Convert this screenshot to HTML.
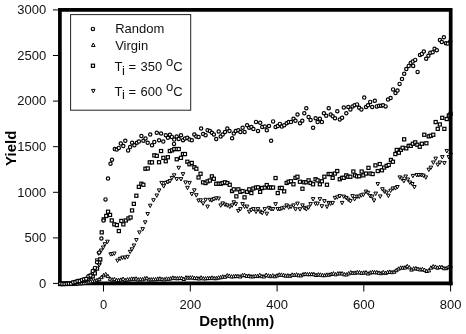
<!DOCTYPE html>
<html><head><meta charset="utf-8"><title>Yield vs Depth</title>
<style>
html,body{margin:0;padding:0;background:#fff;}
svg{display:block;font-family:"Liberation Sans",Arial,Helvetica,sans-serif;}
.m *{fill:#fff;stroke:#000;stroke-width:1.2;}
.m path{stroke-width:1;}
.m path.d{stroke-width:1;}
.t line{stroke:#000;stroke-width:1;}
.lab{font-size:13px;fill:#111;}
.ax{font-size:15px;font-weight:bold;fill:#000;}
</style></head><body>
<svg width="466" height="334" viewBox="0 0 466 334">
<rect x="0" y="0" width="466" height="334" fill="#fff"/>
<path d="M59.9 8.1V283.45H452.55" fill="none" stroke="#000" stroke-width="3.7"/>
<g class="t">
<line x1="53" y1="283.4" x2="58.5" y2="283.4"/>
<line x1="53" y1="237.9" x2="58.5" y2="237.9"/>
<line x1="53" y1="192.3" x2="58.5" y2="192.3"/>
<line x1="53" y1="146.7" x2="58.5" y2="146.7"/>
<line x1="53" y1="101.1" x2="58.5" y2="101.1"/>
<line x1="53" y1="55.5" x2="58.5" y2="55.5"/>
<line x1="53" y1="9.9" x2="58.5" y2="9.9"/>
<line x1="103.5" y1="285" x2="103.5" y2="291.5"/>
<line x1="190.3" y1="285" x2="190.3" y2="291.5"/>
<line x1="277.1" y1="285" x2="277.1" y2="291.5"/>
<line x1="363.8" y1="285" x2="363.8" y2="291.5"/>
<line x1="450.6" y1="285" x2="450.6" y2="291.5"/>
</g>
<g class="lab"><text x="46.2" y="287.8" text-anchor="end">0</text><text x="46.2" y="242.2" text-anchor="end">500</text><text x="46.2" y="196.6" text-anchor="end">1000</text><text x="46.2" y="151.0" text-anchor="end">1500</text><text x="46.2" y="105.4" text-anchor="end">2000</text><text x="46.2" y="59.8" text-anchor="end">2500</text><text x="46.2" y="13.7" text-anchor="end">3000</text><text x="103.5" y="309.1" text-anchor="middle">0</text><text x="190.3" y="309.1" text-anchor="middle">200</text><text x="277.1" y="309.1" text-anchor="middle">400</text><text x="363.8" y="309.1" text-anchor="middle">600</text><text x="450.6" y="309.1" text-anchor="middle">800</text></g>
<g class="m">
<path d="M58.4 285.5L62.0 285.5L60.2 282.1Z"/>
<path d="M60.5 285.5L64.1 285.5L62.3 282.1Z"/>
<path d="M62.7 285.3L66.3 285.3L64.5 281.9Z"/>
<path d="M64.9 285.6L68.5 285.6L66.7 282.2Z"/>
<path d="M67.0 285.4L70.6 285.4L68.8 282.0Z"/>
<path d="M69.2 285.4L72.8 285.4L71.0 282.0Z"/>
<path d="M71.4 285.4L75.0 285.4L73.2 282.0Z"/>
<path d="M73.6 285.4L77.2 285.4L75.4 282.0Z"/>
<path d="M75.7 285.1L79.3 285.1L77.5 281.7Z"/>
<path d="M77.9 284.8L81.5 284.8L79.7 281.4Z"/>
<path d="M80.1 284.8L83.7 284.8L81.9 281.4Z"/>
<path d="M82.2 284.4L85.8 284.4L84.0 281.0Z"/>
<path d="M84.4 284.5L88.0 284.5L86.2 281.1Z"/>
<path d="M86.6 283.7L90.2 283.7L88.4 280.3Z"/>
<path d="M88.7 283.2L92.3 283.2L90.5 279.8Z"/>
<path d="M90.9 282.6L94.5 282.6L92.7 279.2Z"/>
<path d="M93.1 282.2L96.7 282.2L94.9 278.8Z"/>
<path d="M95.2 281.6L98.8 281.6L97.0 278.2Z"/>
<path d="M97.4 280.7L101.0 280.7L99.2 277.3Z"/>
<path d="M99.6 278.7L103.2 278.7L101.4 275.3Z"/>
<path d="M101.8 276.8L105.3 276.8L103.5 273.4Z"/>
<path d="M103.9 275.8L107.5 275.8L105.7 272.4Z"/>
<path d="M106.1 277.6L109.7 277.6L107.9 274.2Z"/>
<path d="M108.3 280.3L111.9 280.3L110.1 276.9Z"/>
<path d="M110.4 281.1L114.0 281.1L112.2 277.7Z"/>
<path d="M112.6 280.6L116.2 280.6L114.4 277.2Z"/>
<path d="M114.8 281.7L118.4 281.7L116.6 278.3Z"/>
<path d="M116.9 281.5L120.5 281.5L118.7 278.1Z"/>
<path d="M119.1 281.2L122.7 281.2L120.9 277.8Z"/>
<path d="M121.3 280.4L124.9 280.4L123.1 277.0Z"/>
<path d="M123.4 281.6L127.0 281.6L125.2 278.2Z"/>
<path d="M125.6 281.0L129.2 281.0L127.4 277.6Z"/>
<path d="M127.8 280.8L131.4 280.8L129.6 277.4Z"/>
<path d="M129.9 280.2L133.5 280.2L131.7 276.8Z"/>
<path d="M132.1 280.3L135.7 280.3L133.9 276.9Z"/>
<path d="M134.3 280.1L137.9 280.1L136.1 276.7Z"/>
<path d="M136.4 281.0L140.1 281.0L138.2 277.6Z"/>
<path d="M138.6 280.8L142.2 280.8L140.4 277.4Z"/>
<path d="M140.8 280.8L144.4 280.8L142.6 277.4Z"/>
<path d="M143.0 279.9L146.6 279.9L144.8 276.5Z"/>
<path d="M145.1 279.7L148.7 279.7L146.9 276.3Z"/>
<path d="M147.3 281.0L150.9 281.0L149.1 277.6Z"/>
<path d="M149.5 280.9L153.1 280.9L151.3 277.5Z"/>
<path d="M151.6 280.8L155.2 280.8L153.4 277.4Z"/>
<path d="M153.8 280.8L157.4 280.8L155.6 277.4Z"/>
<path d="M156.0 280.3L159.6 280.3L157.8 276.9Z"/>
<path d="M158.1 280.1L161.7 280.1L159.9 276.7Z"/>
<path d="M160.3 280.6L163.9 280.6L162.1 277.2Z"/>
<path d="M162.5 280.9L166.1 280.9L164.3 277.5Z"/>
<path d="M164.6 280.2L168.2 280.2L166.4 276.8Z"/>
<path d="M166.8 280.3L170.4 280.3L168.6 276.9Z"/>
<path d="M169.0 279.9L172.6 279.9L170.8 276.5Z"/>
<path d="M171.1 279.2L174.8 279.2L172.9 275.8Z"/>
<path d="M173.3 279.6L176.9 279.6L175.1 276.2Z"/>
<path d="M175.5 279.8L179.1 279.8L177.3 276.4Z"/>
<path d="M177.7 279.6L181.3 279.6L179.5 276.2Z"/>
<path d="M179.8 279.5L183.4 279.5L181.6 276.1Z"/>
<path d="M182.0 280.5L185.6 280.5L183.8 277.1Z"/>
<path d="M184.2 279.0L187.8 279.0L186.0 275.6Z"/>
<path d="M186.3 279.2L189.9 279.2L188.1 275.8Z"/>
<path d="M188.5 279.0L192.1 279.0L190.3 275.6Z"/>
<path d="M190.7 279.0L194.3 279.0L192.5 275.6Z"/>
<path d="M192.8 279.6L196.4 279.6L194.6 276.2Z"/>
<path d="M195.0 279.6L198.6 279.6L196.8 276.2Z"/>
<path d="M197.2 280.0L200.8 280.0L199.0 276.6Z"/>
<path d="M199.3 279.1L202.9 279.1L201.1 275.7Z"/>
<path d="M201.5 279.9L205.1 279.9L203.3 276.5Z"/>
<path d="M203.7 279.9L207.3 279.9L205.5 276.5Z"/>
<path d="M205.8 279.6L209.5 279.6L207.7 276.2Z"/>
<path d="M208.0 279.6L211.6 279.6L209.8 276.2Z"/>
<path d="M210.2 279.2L213.8 279.2L212.0 275.8Z"/>
<path d="M212.4 279.7L216.0 279.7L214.2 276.3Z"/>
<path d="M214.5 279.7L218.1 279.7L216.3 276.3Z"/>
<path d="M216.7 279.1L220.3 279.1L218.5 275.7Z"/>
<path d="M218.9 278.8L222.5 278.8L220.7 275.4Z"/>
<path d="M221.0 278.1L224.6 278.1L222.8 274.7Z"/>
<path d="M223.2 278.3L226.8 278.3L225.0 274.9Z"/>
<path d="M225.4 276.9L229.0 276.9L227.2 273.5Z"/>
<path d="M227.5 277.3L231.1 277.3L229.3 273.9Z"/>
<path d="M229.7 278.0L233.3 278.0L231.5 274.6Z"/>
<path d="M231.9 277.8L235.5 277.8L233.7 274.4Z"/>
<path d="M234.0 277.6L237.6 277.6L235.8 274.2Z"/>
<path d="M236.2 277.6L239.8 277.6L238.0 274.2Z"/>
<path d="M238.4 278.0L242.0 278.0L240.2 274.6Z"/>
<path d="M240.6 276.8L244.2 276.8L242.4 273.4Z"/>
<path d="M242.7 276.5L246.3 276.5L244.5 273.1Z"/>
<path d="M244.9 277.4L248.5 277.4L246.7 274.0Z"/>
<path d="M247.1 277.3L250.7 277.3L248.9 273.9Z"/>
<path d="M249.2 277.9L252.8 277.9L251.0 274.5Z"/>
<path d="M251.4 277.9L255.0 277.9L253.2 274.5Z"/>
<path d="M253.6 277.5L257.2 277.5L255.4 274.1Z"/>
<path d="M255.7 277.6L259.3 277.6L257.5 274.2Z"/>
<path d="M257.9 276.6L261.5 276.6L259.7 273.2Z"/>
<path d="M260.1 277.7L263.7 277.7L261.9 274.3Z"/>
<path d="M262.2 277.9L265.8 277.9L264.0 274.5Z"/>
<path d="M264.4 276.4L268.0 276.4L266.2 273.0Z"/>
<path d="M266.6 277.1L270.2 277.1L268.4 273.7Z"/>
<path d="M268.7 277.7L272.3 277.7L270.5 274.3Z"/>
<path d="M270.9 277.0L274.5 277.0L272.7 273.6Z"/>
<path d="M273.1 277.8L276.7 277.8L274.9 274.4Z"/>
<path d="M275.2 277.0L278.9 277.0L277.1 273.6Z"/>
<path d="M277.4 276.2L281.0 276.2L279.2 272.8Z"/>
<path d="M279.6 276.3L283.2 276.3L281.4 272.9Z"/>
<path d="M281.8 276.6L285.4 276.6L283.6 273.2Z"/>
<path d="M283.9 277.2L287.5 277.2L285.7 273.8Z"/>
<path d="M286.1 277.0L289.7 277.0L287.9 273.6Z"/>
<path d="M288.3 277.3L291.9 277.3L290.1 273.9Z"/>
<path d="M290.4 276.2L294.0 276.2L292.2 272.8Z"/>
<path d="M292.6 276.5L296.2 276.5L294.4 273.1Z"/>
<path d="M294.8 276.1L298.4 276.1L296.6 272.7Z"/>
<path d="M296.9 276.8L300.5 276.8L298.7 273.4Z"/>
<path d="M299.1 276.9L302.7 276.9L300.9 273.5Z"/>
<path d="M301.3 275.9L304.9 275.9L303.1 272.5Z"/>
<path d="M303.4 275.5L307.0 275.5L305.2 272.1Z"/>
<path d="M305.6 275.7L309.2 275.7L307.4 272.3Z"/>
<path d="M307.8 275.7L311.4 275.7L309.6 272.3Z"/>
<path d="M309.9 275.6L313.6 275.6L311.8 272.2Z"/>
<path d="M312.1 275.7L315.7 275.7L313.9 272.3Z"/>
<path d="M314.3 276.5L317.9 276.5L316.1 273.1Z"/>
<path d="M316.5 276.0L320.1 276.0L318.3 272.6Z"/>
<path d="M318.6 276.2L322.2 276.2L320.4 272.8Z"/>
<path d="M320.8 276.7L324.4 276.7L322.6 273.3Z"/>
<path d="M323.0 276.7L326.6 276.7L324.8 273.3Z"/>
<path d="M325.1 276.2L328.7 276.2L326.9 272.8Z"/>
<path d="M327.3 276.2L330.9 276.2L329.1 272.8Z"/>
<path d="M329.5 275.5L333.1 275.5L331.3 272.1Z"/>
<path d="M331.6 275.0L335.2 275.0L333.4 271.6Z"/>
<path d="M333.8 275.8L337.4 275.8L335.6 272.4Z"/>
<path d="M336.0 275.0L339.6 275.0L337.8 271.6Z"/>
<path d="M338.1 274.9L341.7 274.9L339.9 271.5Z"/>
<path d="M340.3 274.9L343.9 274.9L342.1 271.5Z"/>
<path d="M342.5 275.8L346.1 275.8L344.3 272.4Z"/>
<path d="M344.6 276.0L348.2 276.0L346.4 272.6Z"/>
<path d="M346.8 274.9L350.4 274.9L348.6 271.5Z"/>
<path d="M349.0 273.9L352.6 273.9L350.8 270.5Z"/>
<path d="M351.2 274.4L354.8 274.4L353.0 271.0Z"/>
<path d="M353.3 274.3L356.9 274.3L355.1 270.9Z"/>
<path d="M355.5 273.8L359.1 273.8L357.3 270.4Z"/>
<path d="M357.7 273.9L361.3 273.9L359.5 270.5Z"/>
<path d="M359.8 274.4L363.4 274.4L361.6 271.0Z"/>
<path d="M362.0 274.1L365.6 274.1L363.8 270.7Z"/>
<path d="M364.2 273.9L367.8 273.9L366.0 270.5Z"/>
<path d="M366.3 275.0L369.9 275.0L368.1 271.6Z"/>
<path d="M368.5 274.1L372.1 274.1L370.3 270.7Z"/>
<path d="M370.7 273.6L374.3 273.6L372.5 270.2Z"/>
<path d="M372.8 273.8L376.4 273.8L374.6 270.4Z"/>
<path d="M375.0 273.8L378.6 273.8L376.8 270.4Z"/>
<path d="M377.2 274.3L380.8 274.3L379.0 270.9Z"/>
<path d="M379.4 274.7L383.0 274.7L381.2 271.3Z"/>
<path d="M381.5 273.7L385.1 273.7L383.3 270.3Z"/>
<path d="M383.7 274.4L387.3 274.4L385.5 271.0Z"/>
<path d="M385.9 273.6L389.5 273.6L387.7 270.2Z"/>
<path d="M388.0 273.3L391.6 273.3L389.8 269.9Z"/>
<path d="M390.2 273.7L393.8 273.7L392.0 270.3Z"/>
<path d="M392.4 273.2L396.0 273.2L394.2 269.8Z"/>
<path d="M394.5 271.7L398.1 271.7L396.3 268.3Z"/>
<path d="M396.7 270.2L400.3 270.2L398.5 266.8Z"/>
<path d="M398.9 269.2L402.5 269.2L400.7 265.8Z"/>
<path d="M401.0 269.2L404.6 269.2L402.8 265.8Z"/>
<path d="M403.2 269.0L406.8 269.0L405.0 265.6Z"/>
<path d="M405.4 267.7L409.0 267.7L407.2 264.3Z"/>
<path d="M407.5 268.9L411.1 268.9L409.3 265.5Z"/>
<path d="M409.7 271.1L413.3 271.1L411.5 267.7Z"/>
<path d="M411.9 270.0L415.5 270.0L413.7 266.6Z"/>
<path d="M414.1 269.8L417.7 269.8L415.9 266.4Z"/>
<path d="M416.2 270.4L419.8 270.4L418.0 267.0Z"/>
<path d="M418.4 271.0L422.0 271.0L420.2 267.6Z"/>
<path d="M420.6 270.7L424.2 270.7L422.4 267.3Z"/>
<path d="M422.7 271.4L426.3 271.4L424.5 268.0Z"/>
<path d="M424.9 272.5L428.5 272.5L426.7 269.1Z"/>
<path d="M427.1 271.9L430.7 271.9L428.9 268.5Z"/>
<path d="M429.2 269.2L432.8 269.2L431.0 265.8Z"/>
<path d="M431.4 267.9L435.0 267.9L433.2 264.5Z"/>
<path d="M433.6 268.3L437.2 268.3L435.4 264.9Z"/>
<path d="M435.7 269.2L439.3 269.2L437.5 265.8Z"/>
<path d="M437.9 268.5L441.5 268.5L439.7 265.1Z"/>
<path d="M440.1 268.6L443.7 268.6L441.9 265.2Z"/>
<path d="M442.2 269.7L445.8 269.7L444.0 266.3Z"/>
<path d="M444.4 269.7L448.0 269.7L446.2 266.3Z"/>
<path d="M446.6 268.6L450.2 268.6L448.4 265.2Z"/>
<path d="M448.8 267.6L452.4 267.6L450.6 264.2Z"/>
<path class="d" d="M58.4 282.2L62.0 282.2L60.2 285.6Z"/>
<path class="d" d="M60.5 282.0L64.1 282.0L62.3 285.4Z"/>
<path class="d" d="M62.7 282.3L66.3 282.3L64.5 285.7Z"/>
<path class="d" d="M64.9 282.1L68.5 282.1L66.7 285.5Z"/>
<path class="d" d="M67.0 282.4L70.6 282.4L68.8 285.8Z"/>
<path class="d" d="M69.2 282.0L72.8 282.0L71.0 285.4Z"/>
<path class="d" d="M71.4 281.3L75.0 281.3L73.2 284.7Z"/>
<path class="d" d="M73.6 281.0L77.2 281.0L75.4 284.4Z"/>
<path class="d" d="M75.7 280.6L79.3 280.6L77.5 284.0Z"/>
<path class="d" d="M77.9 279.8L81.5 279.8L79.7 283.2Z"/>
<path class="d" d="M80.1 279.2L83.7 279.2L81.9 282.6Z"/>
<path class="d" d="M82.2 279.0L85.8 279.0L84.0 282.4Z"/>
<path class="d" d="M84.4 277.6L88.0 277.6L86.2 281.0Z"/>
<path class="d" d="M86.6 276.6L90.2 276.6L88.4 280.0Z"/>
<path class="d" d="M88.7 274.0L92.3 274.0L90.5 277.4Z"/>
<path class="d" d="M90.9 272.0L94.5 272.0L92.7 275.4Z"/>
<path class="d" d="M93.1 270.1L96.7 270.1L94.9 273.5Z"/>
<path class="d" d="M95.2 258.9L98.8 258.9L97.0 262.3Z"/>
<path class="d" d="M96.9 252.0L100.5 252.0L98.7 255.4Z"/>
<path class="d" d="M97.4 263.5L101.0 263.5L99.2 266.9Z"/>
<path class="d" d="M99.4 249.0L103.0 249.0L101.2 252.4Z"/>
<path class="d" d="M101.4 246.0L105.0 246.0L103.2 249.4Z"/>
<path class="d" d="M103.1 242.7L106.7 242.7L104.9 246.1Z"/>
<path class="d" d="M105.7 240.2L109.3 240.2L107.5 243.6Z"/>
<path class="d" d="M108.9 252.8L112.5 252.8L110.7 256.2Z"/>
<path class="d" d="M110.6 252.5L114.2 252.5L112.4 255.9Z"/>
<path class="d" d="M112.5 252.0L116.1 252.0L114.3 255.4Z"/>
<path class="d" d="M115.7 259.1L119.3 259.1L117.5 262.5Z"/>
<path class="d" d="M118.3 257.3L121.9 257.3L120.1 260.7Z"/>
<path class="d" d="M120.8 256.1L124.4 256.1L122.6 259.5Z"/>
<path class="d" d="M123.3 256.1L126.9 256.1L125.1 259.5Z"/>
<path class="d" d="M125.8 255.3L129.4 255.3L127.6 258.7Z"/>
<path class="d" d="M128.3 250.3L131.9 250.3L130.1 253.7Z"/>
<path class="d" d="M130.1 247.8L133.7 247.8L131.9 251.2Z"/>
<path class="d" d="M132.1 244.0L135.7 244.0L133.9 247.4Z"/>
<path class="d" d="M134.6 238.5L138.2 238.5L136.4 241.9Z"/>
<path class="d" d="M137.6 230.9L141.2 230.9L139.4 234.3Z"/>
<path class="d" d="M140.9 227.6L144.5 227.6L142.7 231.0Z"/>
<path class="d" d="M143.4 220.8L147.0 220.8L145.2 224.2Z"/>
<path class="d" d="M145.9 212.5L149.5 212.5L147.7 215.9Z"/>
<path class="d" d="M148.4 204.2L152.0 204.2L150.2 207.6Z"/>
<path class="d" d="M151.7 198.7L155.3 198.7L153.5 202.1Z"/>
<path class="d" d="M155.0 194.0L158.6 194.0L156.8 197.4Z"/>
<path class="d" d="M157.3 188.9L160.9 188.9L159.1 192.3Z"/>
<path class="d" d="M159.8 181.4L163.4 181.4L161.6 184.8Z"/>
<path class="d" d="M161.8 184.7L165.4 184.7L163.6 188.1Z"/>
<path class="d" d="M163.6 181.4L167.2 181.4L165.4 184.8Z"/>
<path class="d" d="M166.1 180.6L169.7 180.6L167.9 184.0Z"/>
<path class="d" d="M168.1 179.6L171.7 179.6L169.9 183.0Z"/>
<path class="d" d="M170.1 176.4L173.7 176.4L171.9 179.8Z"/>
<path class="d" d="M172.4 173.8L176.0 173.8L174.2 177.2Z"/>
<path class="d" d="M174.9 177.6L178.5 177.6L176.7 181.0Z"/>
<path class="d" d="M176.9 166.3L180.5 166.3L178.7 169.7Z"/>
<path class="d" d="M179.2 177.6L182.8 177.6L181.0 181.0Z"/>
<path class="d" d="M181.2 172.6L184.8 172.6L183.0 176.0Z"/>
<path class="d" d="M183.7 180.9L187.3 180.9L185.5 184.3Z"/>
<path class="d" d="M185.7 186.3L189.3 186.3L187.5 189.7Z"/>
<path class="d" d="M187.7 181.4L191.3 181.4L189.5 184.8Z"/>
<path class="d" d="M190.0 192.6L193.6 192.6L191.8 196.0Z"/>
<path class="d" d="M192.5 188.8L196.1 188.8L194.3 192.2Z"/>
<path class="d" d="M194.5 193.7L198.1 193.7L196.3 197.1Z"/>
<path class="d" d="M196.8 199.0L200.4 199.0L198.6 202.4Z"/>
<path class="d" d="M198.8 198.8L202.4 198.8L200.6 202.2Z"/>
<path class="d" d="M201.3 201.9L204.9 201.9L203.1 205.3Z"/>
<path class="d" d="M203.8 198.3L207.4 198.3L205.6 201.7Z"/>
<path class="d" d="M205.8 205.1L209.4 205.1L207.6 208.5Z"/>
<path class="d" d="M208.1 198.3L211.7 198.3L209.9 201.7Z"/>
<path class="d" d="M210.1 198.8L213.7 198.8L211.9 202.2Z"/>
<path class="d" d="M212.1 197.6L215.7 197.6L213.9 201.0Z"/>
<path class="d" d="M214.4 196.8L218.0 196.8L216.2 200.2Z"/>
<path class="d" d="M216.9 197.0L220.5 197.0L218.7 200.4Z"/>
<path class="d" d="M218.9 203.9L222.5 203.9L220.7 207.3Z"/>
<path class="d" d="M220.9 201.9L224.5 201.9L222.7 205.3Z"/>
<path class="d" d="M223.2 203.1L226.8 203.1L225.0 206.5Z"/>
<path class="d" d="M225.5 203.9L229.1 203.9L227.3 207.3Z"/>
<path class="d" d="M228.0 205.1L231.6 205.1L229.8 208.5Z"/>
<path class="d" d="M230.3 203.9L233.9 203.9L232.1 207.3Z"/>
<path class="d" d="M232.0 200.8L235.6 200.8L233.8 204.2Z"/>
<path class="d" d="M234.0 202.6L237.6 202.6L235.8 206.0Z"/>
<path class="d" d="M236.5 209.4L240.1 209.4L238.3 212.8Z"/>
<path class="d" d="M238.6 207.6L242.2 207.6L240.4 211.0Z"/>
<path class="d" d="M240.8 202.6L244.4 202.6L242.6 206.0Z"/>
<path class="d" d="M242.8 205.1L246.4 205.1L244.6 208.5Z"/>
<path class="d" d="M245.3 205.1L248.9 205.1L247.1 208.5Z"/>
<path class="d" d="M247.4 210.2L251.0 210.2L249.2 213.6Z"/>
<path class="d" d="M249.6 208.4L253.2 208.4L251.4 211.8Z"/>
<path class="d" d="M251.6 207.6L255.2 207.6L253.4 211.0Z"/>
<path class="d" d="M254.2 210.2L257.8 210.2L256.0 213.6Z"/>
<path class="d" d="M256.2 207.6L259.8 207.6L258.0 211.0Z"/>
<path class="d" d="M258.4 210.2L262.0 210.2L260.2 213.6Z"/>
<path class="d" d="M260.4 211.4L264.0 211.4L262.2 214.8Z"/>
<path class="d" d="M263.0 207.6L266.6 207.6L264.8 211.0Z"/>
<path class="d" d="M265.0 212.2L268.6 212.2L266.8 215.6Z"/>
<path class="d" d="M267.2 206.4L270.8 206.4L269.0 209.8Z"/>
<path class="d" d="M269.3 207.6L272.9 207.6L271.1 211.0Z"/>
<path class="d" d="M271.3 207.6L274.9 207.6L273.1 211.0Z"/>
<path class="d" d="M273.8 202.6L277.4 202.6L275.6 206.0Z"/>
<path class="d" d="M276.0 207.6L279.6 207.6L277.8 211.0Z"/>
<path class="d" d="M278.1 207.6L281.7 207.6L279.9 211.0Z"/>
<path class="d" d="M280.0 206.9L283.6 206.9L281.8 210.3Z"/>
<path class="d" d="M282.4 206.2L286.0 206.2L284.2 209.6Z"/>
<path class="d" d="M284.9 203.9L288.5 203.9L286.7 207.3Z"/>
<path class="d" d="M286.9 205.9L290.5 205.9L288.7 209.3Z"/>
<path class="d" d="M289.2 205.2L292.8 205.2L291.0 208.6Z"/>
<path class="d" d="M291.7 203.9L295.3 203.9L293.5 207.3Z"/>
<path class="d" d="M293.7 207.7L297.3 207.7L295.5 211.1Z"/>
<path class="d" d="M295.7 202.1L299.3 202.1L297.5 205.5Z"/>
<path class="d" d="M298.2 207.7L301.8 207.7L300.0 211.1Z"/>
<path class="d" d="M300.7 203.9L304.3 203.9L302.5 207.3Z"/>
<path class="d" d="M302.5 206.4L306.1 206.4L304.3 209.8Z"/>
<path class="d" d="M304.5 207.7L308.1 207.7L306.3 211.1Z"/>
<path class="d" d="M306.8 205.9L310.4 205.9L308.6 209.3Z"/>
<path class="d" d="M308.8 202.6L312.4 202.6L310.6 206.0Z"/>
<path class="d" d="M311.3 197.6L314.9 197.6L313.1 201.0Z"/>
<path class="d" d="M313.8 202.1L317.4 202.1L315.6 205.5Z"/>
<path class="d" d="M315.8 202.1L319.4 202.1L317.6 205.5Z"/>
<path class="d" d="M318.1 197.6L321.7 197.6L319.9 201.0Z"/>
<path class="d" d="M320.1 204.7L323.7 204.7L321.9 208.1Z"/>
<path class="d" d="M322.6 199.6L326.2 199.6L324.4 203.0Z"/>
<path class="d" d="M325.2 205.2L328.8 205.2L327.0 208.6Z"/>
<path class="d" d="M326.9 201.4L330.5 201.4L328.7 204.8Z"/>
<path class="d" d="M328.9 202.1L332.5 202.1L330.7 205.5Z"/>
<path class="d" d="M330.9 201.4L334.5 201.4L332.7 204.8Z"/>
<path class="d" d="M333.2 196.4L336.8 196.4L335.0 199.8Z"/>
<path class="d" d="M335.5 195.8L339.1 195.8L337.3 199.2Z"/>
<path class="d" d="M338.0 194.6L341.6 194.6L339.8 198.0Z"/>
<path class="d" d="M340.3 201.4L343.9 201.4L342.1 204.8Z"/>
<path class="d" d="M342.0 195.1L345.6 195.1L343.8 198.5Z"/>
<path class="d" d="M344.5 196.4L348.1 196.4L346.3 199.8Z"/>
<path class="d" d="M346.5 198.1L350.1 198.1L348.3 201.5Z"/>
<path class="d" d="M348.6 199.6L352.2 199.6L350.4 203.0Z"/>
<path class="d" d="M350.8 194.6L354.4 194.6L352.6 198.0Z"/>
<path class="d" d="M352.8 197.6L356.4 197.6L354.6 201.0Z"/>
<path class="d" d="M355.3 195.1L358.9 195.1L357.1 198.5Z"/>
<path class="d" d="M357.4 195.1L361.0 195.1L359.2 198.5Z"/>
<path class="d" d="M359.6 193.8L363.2 193.8L361.4 197.2Z"/>
<path class="d" d="M361.6 193.1L365.2 193.1L363.4 196.5Z"/>
<path class="d" d="M364.2 190.1L367.8 190.1L366.0 193.5Z"/>
<path class="d" d="M366.2 191.3L369.8 191.3L368.0 194.7Z"/>
<path class="d" d="M368.4 194.6L372.0 194.6L370.2 198.0Z"/>
<path class="d" d="M370.4 195.1L374.0 195.1L372.2 198.5Z"/>
<path class="d" d="M372.2 198.9L375.8 198.9L374.0 202.3Z"/>
<path class="d" d="M373.9 192.1L377.5 192.1L375.7 195.5Z"/>
<path class="d" d="M376.0 182.5L379.6 182.5L377.8 185.9Z"/>
<path class="d" d="M378.4 194.9L382.0 194.9L380.2 198.3Z"/>
<path class="d" d="M380.6 187.7L384.2 187.7L382.4 191.1Z"/>
<path class="d" d="M382.6 190.0L386.2 190.0L384.4 193.4Z"/>
<path class="d" d="M384.8 191.1L388.4 191.1L386.6 194.5Z"/>
<path class="d" d="M386.6 194.2L390.2 194.2L388.4 197.6Z"/>
<path class="d" d="M388.8 189.1L392.4 189.1L390.6 192.5Z"/>
<path class="d" d="M391.1 187.0L394.7 187.0L392.9 190.4Z"/>
<path class="d" d="M393.6 186.7L397.2 186.7L395.4 190.1Z"/>
<path class="d" d="M395.6 185.5L399.2 185.5L397.4 188.9Z"/>
<path class="d" d="M398.0 175.9L401.6 175.9L399.8 179.3Z"/>
<path class="d" d="M400.0 177.1L403.6 177.1L401.8 180.5Z"/>
<path class="d" d="M402.1 179.5L405.7 179.5L403.9 182.9Z"/>
<path class="d" d="M403.9 175.0L407.5 175.0L405.7 178.4Z"/>
<path class="d" d="M406.0 178.0L409.6 178.0L407.8 181.4Z"/>
<path class="d" d="M408.1 181.0L411.7 181.0L409.9 184.4Z"/>
<path class="d" d="M410.5 182.5L414.1 182.5L412.3 185.9Z"/>
<path class="d" d="M411.1 174.4L414.7 174.4L412.9 177.8Z"/>
<path class="d" d="M412.6 185.5L416.2 185.5L414.4 188.9Z"/>
<path class="d" d="M415.0 173.6L418.6 173.6L416.8 177.0Z"/>
<path class="d" d="M417.1 173.6L420.7 173.6L418.9 177.0Z"/>
<path class="d" d="M419.5 173.6L423.1 173.6L421.3 177.0Z"/>
<path class="d" d="M421.6 174.1L425.2 174.1L423.4 177.5Z"/>
<path class="d" d="M424.0 175.9L427.6 175.9L425.8 179.3Z"/>
<path class="d" d="M427.0 168.2L430.6 168.2L428.8 171.6Z"/>
<path class="d" d="M429.1 166.1L432.7 166.1L430.9 169.5Z"/>
<path class="d" d="M431.5 161.0L435.1 161.0L433.3 164.4Z"/>
<path class="d" d="M433.9 157.1L437.5 157.1L435.7 160.5Z"/>
<path class="d" d="M436.0 163.1L439.6 163.1L437.8 166.5Z"/>
<path class="d" d="M438.1 161.0L441.7 161.0L439.9 164.4Z"/>
<path class="d" d="M440.5 155.6L444.1 155.6L442.3 159.0Z"/>
<path class="d" d="M442.6 161.6L446.2 161.6L444.4 165.0Z"/>
<path class="d" d="M445.0 149.6L448.6 149.6L446.8 153.0Z"/>
<path class="d" d="M447.1 155.6L450.7 155.6L448.9 159.0Z"/>
<path class="d" d="M448.8 153.2L452.4 153.2L450.6 156.6Z"/>
<rect x="58.6" y="282.5" width="3.1" height="3.1"/>
<rect x="60.8" y="282.5" width="3.1" height="3.1"/>
<rect x="63.0" y="282.4" width="3.1" height="3.1"/>
<rect x="65.1" y="282.2" width="3.1" height="3.1"/>
<rect x="67.3" y="282.3" width="3.1" height="3.1"/>
<rect x="69.5" y="282.4" width="3.1" height="3.1"/>
<rect x="71.6" y="281.2" width="3.1" height="3.1"/>
<rect x="73.8" y="280.5" width="3.1" height="3.1"/>
<rect x="76.0" y="280.2" width="3.1" height="3.1"/>
<rect x="78.1" y="279.4" width="3.1" height="3.1"/>
<rect x="80.3" y="279.3" width="3.1" height="3.1"/>
<rect x="82.5" y="278.8" width="3.1" height="3.1"/>
<rect x="84.6" y="278.1" width="3.1" height="3.1"/>
<rect x="86.8" y="277.1" width="3.1" height="3.1"/>
<rect x="89.0" y="275.6" width="3.1" height="3.1"/>
<rect x="91.2" y="274.8" width="3.1" height="3.1"/>
<rect x="93.3" y="271.8" width="3.1" height="3.1"/>
<rect x="95.5" y="267.0" width="3.1" height="3.1"/>
<rect x="97.7" y="260.8" width="3.1" height="3.1"/>
<rect x="98.7" y="257.8" width="3.1" height="3.1"/>
<rect x="100.2" y="230.8" width="3.1" height="3.1"/>
<rect x="102.2" y="217.8" width="3.1" height="3.1"/>
<rect x="104.7" y="214.4" width="3.1" height="3.1"/>
<rect x="106.5" y="210.2" width="3.1" height="3.1"/>
<rect x="108.5" y="213.4" width="3.1" height="3.1"/>
<rect x="110.2" y="218.9" width="3.1" height="3.1"/>
<rect x="112.8" y="222.8" width="3.1" height="3.1"/>
<rect x="115.3" y="223.5" width="3.1" height="3.1"/>
<rect x="117.3" y="229.5" width="3.1" height="3.1"/>
<rect x="119.8" y="219.4" width="3.1" height="3.1"/>
<rect x="121.8" y="222.8" width="3.1" height="3.1"/>
<rect x="124.3" y="218.9" width="3.1" height="3.1"/>
<rect x="126.9" y="216.9" width="3.1" height="3.1"/>
<rect x="129.0" y="215.9" width="3.1" height="3.1"/>
<rect x="130.5" y="208.9" width="3.1" height="3.1"/>
<rect x="132.3" y="202.3" width="3.1" height="3.1"/>
<rect x="134.8" y="194.2" width="3.1" height="3.1"/>
<rect x="137.3" y="185.3" width="3.1" height="3.1"/>
<rect x="139.8" y="182.2" width="3.1" height="3.1"/>
<rect x="141.8" y="183.2" width="3.1" height="3.1"/>
<rect x="143.9" y="167.2" width="3.1" height="3.1"/>
<rect x="146.2" y="166.9" width="3.1" height="3.1"/>
<rect x="148.2" y="160.8" width="3.1" height="3.1"/>
<rect x="150.4" y="160.8" width="3.1" height="3.1"/>
<rect x="152.8" y="153.8" width="3.1" height="3.1"/>
<rect x="155.2" y="154.3" width="3.1" height="3.1"/>
<rect x="157.5" y="160.7" width="3.1" height="3.1"/>
<rect x="159.5" y="149.5" width="3.1" height="3.1"/>
<rect x="161.8" y="156.3" width="3.1" height="3.1"/>
<rect x="164.2" y="159.7" width="3.1" height="3.1"/>
<rect x="166.3" y="155.7" width="3.1" height="3.1"/>
<rect x="168.3" y="149.5" width="3.1" height="3.1"/>
<rect x="170.5" y="148.8" width="3.1" height="3.1"/>
<rect x="172.7" y="147.5" width="3.1" height="3.1"/>
<rect x="175.2" y="147.5" width="3.1" height="3.1"/>
<rect x="175.2" y="157.7" width="3.1" height="3.1"/>
<rect x="177.2" y="147.5" width="3.1" height="3.1"/>
<rect x="179.4" y="156.3" width="3.1" height="3.1"/>
<rect x="181.4" y="152.5" width="3.1" height="3.1"/>
<rect x="183.4" y="152.5" width="3.1" height="3.1"/>
<rect x="185.8" y="160.2" width="3.1" height="3.1"/>
<rect x="187.9" y="162.7" width="3.1" height="3.1"/>
<rect x="190.2" y="161.4" width="3.1" height="3.1"/>
<rect x="192.8" y="165.7" width="3.1" height="3.1"/>
<rect x="194.8" y="167.2" width="3.1" height="3.1"/>
<rect x="197.0" y="175.9" width="3.1" height="3.1"/>
<rect x="199.0" y="172.2" width="3.1" height="3.1"/>
<rect x="201.5" y="180.8" width="3.1" height="3.1"/>
<rect x="204.0" y="181.5" width="3.1" height="3.1"/>
<rect x="206.0" y="179.8" width="3.1" height="3.1"/>
<rect x="208.3" y="179.0" width="3.1" height="3.1"/>
<rect x="210.3" y="174.8" width="3.1" height="3.1"/>
<rect x="212.3" y="177.2" width="3.1" height="3.1"/>
<rect x="214.7" y="182.2" width="3.1" height="3.1"/>
<rect x="217.2" y="182.2" width="3.1" height="3.1"/>
<rect x="219.2" y="182.2" width="3.1" height="3.1"/>
<rect x="221.2" y="181.5" width="3.1" height="3.1"/>
<rect x="223.4" y="180.8" width="3.1" height="3.1"/>
<rect x="225.8" y="181.5" width="3.1" height="3.1"/>
<rect x="228.2" y="183.2" width="3.1" height="3.1"/>
<rect x="230.5" y="189.5" width="3.1" height="3.1"/>
<rect x="232.2" y="187.8" width="3.1" height="3.1"/>
<rect x="234.8" y="194.8" width="3.1" height="3.1"/>
<rect x="236.8" y="187.8" width="3.1" height="3.1"/>
<rect x="238.8" y="190.3" width="3.1" height="3.1"/>
<rect x="241.0" y="189.5" width="3.1" height="3.1"/>
<rect x="243.0" y="195.8" width="3.1" height="3.1"/>
<rect x="245.5" y="190.3" width="3.1" height="3.1"/>
<rect x="247.7" y="187.8" width="3.1" height="3.1"/>
<rect x="249.8" y="191.5" width="3.1" height="3.1"/>
<rect x="251.8" y="187.0" width="3.1" height="3.1"/>
<rect x="254.4" y="186.0" width="3.1" height="3.1"/>
<rect x="256.4" y="185.8" width="3.1" height="3.1"/>
<rect x="258.6" y="190.3" width="3.1" height="3.1"/>
<rect x="260.6" y="186.5" width="3.1" height="3.1"/>
<rect x="263.2" y="186.0" width="3.1" height="3.1"/>
<rect x="265.2" y="183.5" width="3.1" height="3.1"/>
<rect x="267.4" y="186.0" width="3.1" height="3.1"/>
<rect x="269.5" y="186.0" width="3.1" height="3.1"/>
<rect x="271.5" y="186.0" width="3.1" height="3.1"/>
<rect x="274.0" y="176.5" width="3.1" height="3.1"/>
<rect x="276.2" y="191.5" width="3.1" height="3.1"/>
<rect x="278.3" y="186.5" width="3.1" height="3.1"/>
<rect x="280.2" y="186.4" width="3.1" height="3.1"/>
<rect x="282.6" y="189.8" width="3.1" height="3.1"/>
<rect x="285.1" y="181.4" width="3.1" height="3.1"/>
<rect x="287.1" y="180.2" width="3.1" height="3.1"/>
<rect x="289.4" y="179.7" width="3.1" height="3.1"/>
<rect x="291.9" y="182.7" width="3.1" height="3.1"/>
<rect x="293.9" y="176.3" width="3.1" height="3.1"/>
<rect x="295.9" y="175.2" width="3.1" height="3.1"/>
<rect x="298.4" y="180.2" width="3.1" height="3.1"/>
<rect x="300.9" y="187.2" width="3.1" height="3.1"/>
<rect x="302.7" y="180.7" width="3.1" height="3.1"/>
<rect x="304.7" y="180.7" width="3.1" height="3.1"/>
<rect x="307.0" y="178.8" width="3.1" height="3.1"/>
<rect x="309.0" y="181.4" width="3.1" height="3.1"/>
<rect x="311.5" y="182.7" width="3.1" height="3.1"/>
<rect x="314.0" y="177.7" width="3.1" height="3.1"/>
<rect x="316.0" y="178.8" width="3.1" height="3.1"/>
<rect x="318.3" y="182.7" width="3.1" height="3.1"/>
<rect x="320.3" y="179.7" width="3.1" height="3.1"/>
<rect x="322.8" y="175.2" width="3.1" height="3.1"/>
<rect x="325.4" y="183.2" width="3.1" height="3.1"/>
<rect x="327.1" y="172.5" width="3.1" height="3.1"/>
<rect x="329.1" y="172.5" width="3.1" height="3.1"/>
<rect x="331.1" y="176.3" width="3.1" height="3.1"/>
<rect x="333.4" y="172.0" width="3.1" height="3.1"/>
<rect x="335.7" y="169.5" width="3.1" height="3.1"/>
<rect x="338.2" y="177.7" width="3.1" height="3.1"/>
<rect x="340.5" y="176.3" width="3.1" height="3.1"/>
<rect x="342.2" y="176.3" width="3.1" height="3.1"/>
<rect x="344.7" y="173.8" width="3.1" height="3.1"/>
<rect x="346.7" y="175.2" width="3.1" height="3.1"/>
<rect x="348.8" y="175.2" width="3.1" height="3.1"/>
<rect x="351.8" y="170.0" width="3.1" height="3.1"/>
<rect x="353.5" y="173.8" width="3.1" height="3.1"/>
<rect x="355.5" y="174.7" width="3.1" height="3.1"/>
<rect x="357.6" y="174.7" width="3.1" height="3.1"/>
<rect x="360.1" y="170.0" width="3.1" height="3.1"/>
<rect x="361.8" y="173.8" width="3.1" height="3.1"/>
<rect x="364.4" y="172.0" width="3.1" height="3.1"/>
<rect x="366.9" y="166.3" width="3.1" height="3.1"/>
<rect x="368.9" y="172.0" width="3.1" height="3.1"/>
<rect x="371.1" y="172.5" width="3.1" height="3.1"/>
<rect x="373.9" y="163.8" width="3.1" height="3.1"/>
<rect x="376.2" y="169.5" width="3.1" height="3.1"/>
<rect x="378.2" y="162.5" width="3.1" height="3.1"/>
<rect x="380.4" y="168.7" width="3.1" height="3.1"/>
<rect x="382.6" y="166.0" width="3.1" height="3.1"/>
<rect x="385.1" y="164.3" width="3.1" height="3.1"/>
<rect x="387.2" y="163.4" width="3.1" height="3.1"/>
<rect x="389.4" y="158.4" width="3.1" height="3.1"/>
<rect x="391.4" y="160.2" width="3.1" height="3.1"/>
<rect x="393.8" y="152.5" width="3.1" height="3.1"/>
<rect x="395.2" y="148.4" width="3.1" height="3.1"/>
<rect x="397.3" y="151.2" width="3.1" height="3.1"/>
<rect x="399.4" y="148.2" width="3.1" height="3.1"/>
<rect x="401.1" y="146.2" width="3.1" height="3.1"/>
<rect x="402.6" y="137.8" width="3.1" height="3.1"/>
<rect x="404.7" y="146.8" width="3.1" height="3.1"/>
<rect x="407.1" y="144.3" width="3.1" height="3.1"/>
<rect x="409.2" y="144.3" width="3.1" height="3.1"/>
<rect x="411.3" y="142.2" width="3.1" height="3.1"/>
<rect x="413.7" y="140.8" width="3.1" height="3.1"/>
<rect x="415.8" y="143.2" width="3.1" height="3.1"/>
<rect x="418.2" y="145.2" width="3.1" height="3.1"/>
<rect x="420.3" y="142.2" width="3.1" height="3.1"/>
<rect x="422.7" y="133.2" width="3.1" height="3.1"/>
<rect x="424.8" y="141.7" width="3.1" height="3.1"/>
<rect x="427.2" y="134.8" width="3.1" height="3.1"/>
<rect x="429.3" y="134.2" width="3.1" height="3.1"/>
<rect x="431.7" y="133.2" width="3.1" height="3.1"/>
<rect x="434.1" y="120.5" width="3.1" height="3.1"/>
<rect x="436.2" y="127.3" width="3.1" height="3.1"/>
<rect x="438.3" y="122.9" width="3.1" height="3.1"/>
<rect x="440.7" y="116.3" width="3.1" height="3.1"/>
<rect x="442.8" y="127.3" width="3.1" height="3.1"/>
<rect x="445.2" y="117.5" width="3.1" height="3.1"/>
<rect x="447.3" y="113.9" width="3.1" height="3.1"/>
<rect x="449.0" y="112.4" width="3.1" height="3.1"/>
<circle cx="60.2" cy="283.6" r="1.65"/>
<circle cx="62.3" cy="284.0" r="1.65"/>
<circle cx="64.5" cy="284.0" r="1.65"/>
<circle cx="66.7" cy="283.7" r="1.65"/>
<circle cx="68.8" cy="283.6" r="1.65"/>
<circle cx="71.0" cy="283.8" r="1.65"/>
<circle cx="73.2" cy="282.4" r="1.65"/>
<circle cx="75.4" cy="282.0" r="1.65"/>
<circle cx="77.5" cy="281.1" r="1.65"/>
<circle cx="79.7" cy="281.1" r="1.65"/>
<circle cx="81.9" cy="279.9" r="1.65"/>
<circle cx="84.0" cy="279.3" r="1.65"/>
<circle cx="86.2" cy="278.7" r="1.65"/>
<circle cx="88.4" cy="276.3" r="1.65"/>
<circle cx="90.5" cy="275.6" r="1.65"/>
<circle cx="92.7" cy="271.1" r="1.65"/>
<circle cx="94.9" cy="267.9" r="1.65"/>
<circle cx="97.0" cy="262.2" r="1.65"/>
<circle cx="99.2" cy="252.5" r="1.65"/>
<circle cx="101.4" cy="238.5" r="1.65"/>
<circle cx="103.5" cy="220.5" r="1.65"/>
<circle cx="105.5" cy="199.4" r="1.65"/>
<circle cx="108.0" cy="178.6" r="1.65"/>
<circle cx="110.5" cy="163.7" r="1.65"/>
<circle cx="112.0" cy="159.7" r="1.65"/>
<circle cx="114.8" cy="149.1" r="1.65"/>
<circle cx="116.8" cy="149.6" r="1.65"/>
<circle cx="118.8" cy="147.9" r="1.65"/>
<circle cx="120.8" cy="143.6" r="1.65"/>
<circle cx="123.3" cy="146.1" r="1.65"/>
<circle cx="125.3" cy="140.8" r="1.65"/>
<circle cx="128.1" cy="150.4" r="1.65"/>
<circle cx="130.1" cy="147.1" r="1.65"/>
<circle cx="132.1" cy="142.8" r="1.65"/>
<circle cx="134.4" cy="145.3" r="1.65"/>
<circle cx="136.9" cy="142.8" r="1.65"/>
<circle cx="138.9" cy="141.6" r="1.65"/>
<circle cx="141.4" cy="136.0" r="1.65"/>
<circle cx="143.4" cy="140.8" r="1.65"/>
<circle cx="145.5" cy="138.5" r="1.65"/>
<circle cx="147.7" cy="142.8" r="1.65"/>
<circle cx="150.2" cy="134.5" r="1.65"/>
<circle cx="152.0" cy="145.3" r="1.65"/>
<circle cx="154.3" cy="142.1" r="1.65"/>
<circle cx="156.8" cy="132.8" r="1.65"/>
<circle cx="159.1" cy="140.3" r="1.65"/>
<circle cx="161.1" cy="133.5" r="1.65"/>
<circle cx="163.3" cy="141.6" r="1.65"/>
<circle cx="165.8" cy="135.3" r="1.65"/>
<circle cx="167.9" cy="137.8" r="1.65"/>
<circle cx="169.9" cy="134.8" r="1.65"/>
<circle cx="171.9" cy="136.9" r="1.65"/>
<circle cx="174.0" cy="143.9" r="1.65"/>
<circle cx="174.2" cy="139.6" r="1.65"/>
<circle cx="176.7" cy="136.5" r="1.65"/>
<circle cx="178.7" cy="139.0" r="1.65"/>
<circle cx="181.0" cy="135.3" r="1.65"/>
<circle cx="183.0" cy="140.3" r="1.65"/>
<circle cx="185.0" cy="138.5" r="1.65"/>
<circle cx="187.3" cy="137.8" r="1.65"/>
<circle cx="189.5" cy="139.6" r="1.65"/>
<circle cx="191.8" cy="140.3" r="1.65"/>
<circle cx="194.3" cy="134.5" r="1.65"/>
<circle cx="196.3" cy="136.5" r="1.65"/>
<circle cx="198.6" cy="137.0" r="1.65"/>
<circle cx="201.1" cy="128.5" r="1.65"/>
<circle cx="203.1" cy="134.0" r="1.65"/>
<circle cx="205.6" cy="135.3" r="1.65"/>
<circle cx="207.6" cy="130.2" r="1.65"/>
<circle cx="209.9" cy="131.0" r="1.65"/>
<circle cx="211.9" cy="132.8" r="1.65"/>
<circle cx="213.9" cy="134.5" r="1.65"/>
<circle cx="216.2" cy="139.0" r="1.65"/>
<circle cx="218.7" cy="131.5" r="1.65"/>
<circle cx="220.7" cy="136.5" r="1.65"/>
<circle cx="222.7" cy="134.5" r="1.65"/>
<circle cx="225.0" cy="132.0" r="1.65"/>
<circle cx="227.3" cy="128.5" r="1.65"/>
<circle cx="229.5" cy="131.0" r="1.65"/>
<circle cx="232.1" cy="138.3" r="1.65"/>
<circle cx="233.8" cy="133.5" r="1.65"/>
<circle cx="235.8" cy="131.0" r="1.65"/>
<circle cx="238.3" cy="130.2" r="1.65"/>
<circle cx="240.4" cy="132.0" r="1.65"/>
<circle cx="242.6" cy="127.7" r="1.65"/>
<circle cx="244.6" cy="132.0" r="1.65"/>
<circle cx="247.1" cy="125.2" r="1.65"/>
<circle cx="249.2" cy="127.7" r="1.65"/>
<circle cx="251.4" cy="127.0" r="1.65"/>
<circle cx="253.4" cy="129.0" r="1.65"/>
<circle cx="256.0" cy="121.9" r="1.65"/>
<circle cx="258.0" cy="131.0" r="1.65"/>
<circle cx="260.2" cy="122.7" r="1.65"/>
<circle cx="262.2" cy="127.0" r="1.65"/>
<circle cx="264.8" cy="126.5" r="1.65"/>
<circle cx="266.8" cy="130.2" r="1.65"/>
<circle cx="269.0" cy="126.0" r="1.65"/>
<circle cx="271.1" cy="140.8" r="1.65"/>
<circle cx="273.1" cy="121.4" r="1.65"/>
<circle cx="275.6" cy="127.0" r="1.65"/>
<circle cx="277.8" cy="126.0" r="1.65"/>
<circle cx="279.9" cy="123.9" r="1.65"/>
<circle cx="281.8" cy="126.6" r="1.65"/>
<circle cx="284.2" cy="125.3" r="1.65"/>
<circle cx="286.7" cy="123.3" r="1.65"/>
<circle cx="288.7" cy="122.1" r="1.65"/>
<circle cx="291.0" cy="122.1" r="1.65"/>
<circle cx="293.5" cy="118.8" r="1.65"/>
<circle cx="295.5" cy="120.8" r="1.65"/>
<circle cx="297.5" cy="114.5" r="1.65"/>
<circle cx="300.0" cy="123.3" r="1.65"/>
<circle cx="302.3" cy="120.8" r="1.65"/>
<circle cx="304.3" cy="113.2" r="1.65"/>
<circle cx="306.3" cy="108.2" r="1.65"/>
<circle cx="308.6" cy="117.0" r="1.65"/>
<circle cx="310.6" cy="120.0" r="1.65"/>
<circle cx="313.1" cy="127.8" r="1.65"/>
<circle cx="315.6" cy="118.3" r="1.65"/>
<circle cx="317.6" cy="122.1" r="1.65"/>
<circle cx="319.9" cy="118.8" r="1.65"/>
<circle cx="321.9" cy="122.1" r="1.65"/>
<circle cx="323.9" cy="113.2" r="1.65"/>
<circle cx="326.2" cy="115.8" r="1.65"/>
<circle cx="328.7" cy="108.2" r="1.65"/>
<circle cx="330.7" cy="114.5" r="1.65"/>
<circle cx="332.7" cy="116.3" r="1.65"/>
<circle cx="335.0" cy="118.3" r="1.65"/>
<circle cx="337.3" cy="111.2" r="1.65"/>
<circle cx="339.8" cy="119.5" r="1.65"/>
<circle cx="342.1" cy="117.8" r="1.65"/>
<circle cx="343.8" cy="107.5" r="1.65"/>
<circle cx="346.3" cy="113.2" r="1.65"/>
<circle cx="348.3" cy="107.0" r="1.65"/>
<circle cx="350.4" cy="109.5" r="1.65"/>
<circle cx="352.6" cy="106.4" r="1.65"/>
<circle cx="354.6" cy="105.2" r="1.65"/>
<circle cx="357.1" cy="104.4" r="1.65"/>
<circle cx="359.2" cy="107.7" r="1.65"/>
<circle cx="361.4" cy="109.5" r="1.65"/>
<circle cx="364.2" cy="97.6" r="1.65"/>
<circle cx="366.0" cy="107.0" r="1.65"/>
<circle cx="368.0" cy="105.2" r="1.65"/>
<circle cx="370.2" cy="101.9" r="1.65"/>
<circle cx="372.2" cy="107.0" r="1.65"/>
<circle cx="374.8" cy="100.7" r="1.65"/>
<circle cx="376.8" cy="106.4" r="1.65"/>
<circle cx="379.0" cy="105.7" r="1.65"/>
<circle cx="381.1" cy="105.7" r="1.65"/>
<circle cx="383.1" cy="105.2" r="1.65"/>
<circle cx="385.6" cy="106.4" r="1.65"/>
<circle cx="388.0" cy="99.6" r="1.65"/>
<circle cx="390.6" cy="98.0" r="1.65"/>
<circle cx="393.1" cy="89.4" r="1.65"/>
<circle cx="395.5" cy="93.0" r="1.65"/>
<circle cx="397.5" cy="90.6" r="1.65"/>
<circle cx="399.6" cy="83.9" r="1.65"/>
<circle cx="402.0" cy="79.1" r="1.65"/>
<circle cx="404.2" cy="73.8" r="1.65"/>
<circle cx="406.3" cy="69.0" r="1.65"/>
<circle cx="408.7" cy="65.9" r="1.65"/>
<circle cx="410.7" cy="63.0" r="1.65"/>
<circle cx="412.8" cy="61.6" r="1.65"/>
<circle cx="413.2" cy="65.9" r="1.65"/>
<circle cx="415.2" cy="59.9" r="1.65"/>
<circle cx="417.6" cy="71.9" r="1.65"/>
<circle cx="420.0" cy="55.1" r="1.65"/>
<circle cx="421.9" cy="53.9" r="1.65"/>
<circle cx="423.8" cy="51.5" r="1.65"/>
<circle cx="426.2" cy="58.7" r="1.65"/>
<circle cx="428.4" cy="55.8" r="1.65"/>
<circle cx="430.3" cy="52.7" r="1.65"/>
<circle cx="432.7" cy="52.3" r="1.65"/>
<circle cx="434.6" cy="48.7" r="1.65"/>
<circle cx="436.8" cy="50.3" r="1.65"/>
<circle cx="439.9" cy="40.0" r="1.65"/>
<circle cx="441.8" cy="42.0" r="1.65"/>
<circle cx="443.9" cy="37.2" r="1.65"/>
<circle cx="445.9" cy="43.2" r="1.65"/>
<circle cx="447.8" cy="43.6" r="1.65"/>
<circle cx="450.2" cy="41.4" r="1.65"/>
</g>
<path d="M58.05 9.95H450.7V285.3" fill="none" stroke="#000" stroke-width="3.7"/>
<rect x="70.6" y="14.6" width="120.1" height="95.6" fill="#fff" stroke="#222" stroke-width="1"/>
<g class="m">
<circle cx="92.9" cy="28.9" r="1.65"/>
<path d="M91.5 46.5L95.1 46.5L93.3 43.0Z"/>
<rect x="91.4" y="64.2" width="3.1" height="3.1"/>
<path class="d" d="M91.5 89.4L95.1 89.4L93.3 92.8Z"/>
</g>
<g class="lab">
<text x="115.2" y="33.4">Random</text>
<text x="115.2" y="49.5">Virgin</text>
<text x="114.5" y="71.3">T<tspan dy="3.3">i</tspan><tspan dy="-3.3"> = </tspan><tspan dx="0.9">350 </tspan><tspan dy="-5.2">o</tspan><tspan dy="5.2">C</tspan></text>
<text x="114.5" y="95.9">T<tspan dy="3.3">i</tspan><tspan dy="-3.3"> = </tspan><tspan dx="0.9">600 </tspan><tspan dy="-5.2">o</tspan><tspan dy="5.2">C</tspan></text>
</g>
<text class="ax" x="236.7" y="325.6" text-anchor="middle">Depth(nm)</text>
<text class="ax" transform="translate(15.9,148.3) rotate(-90)" text-anchor="middle">Yield</text>
</svg>
</body></html>
